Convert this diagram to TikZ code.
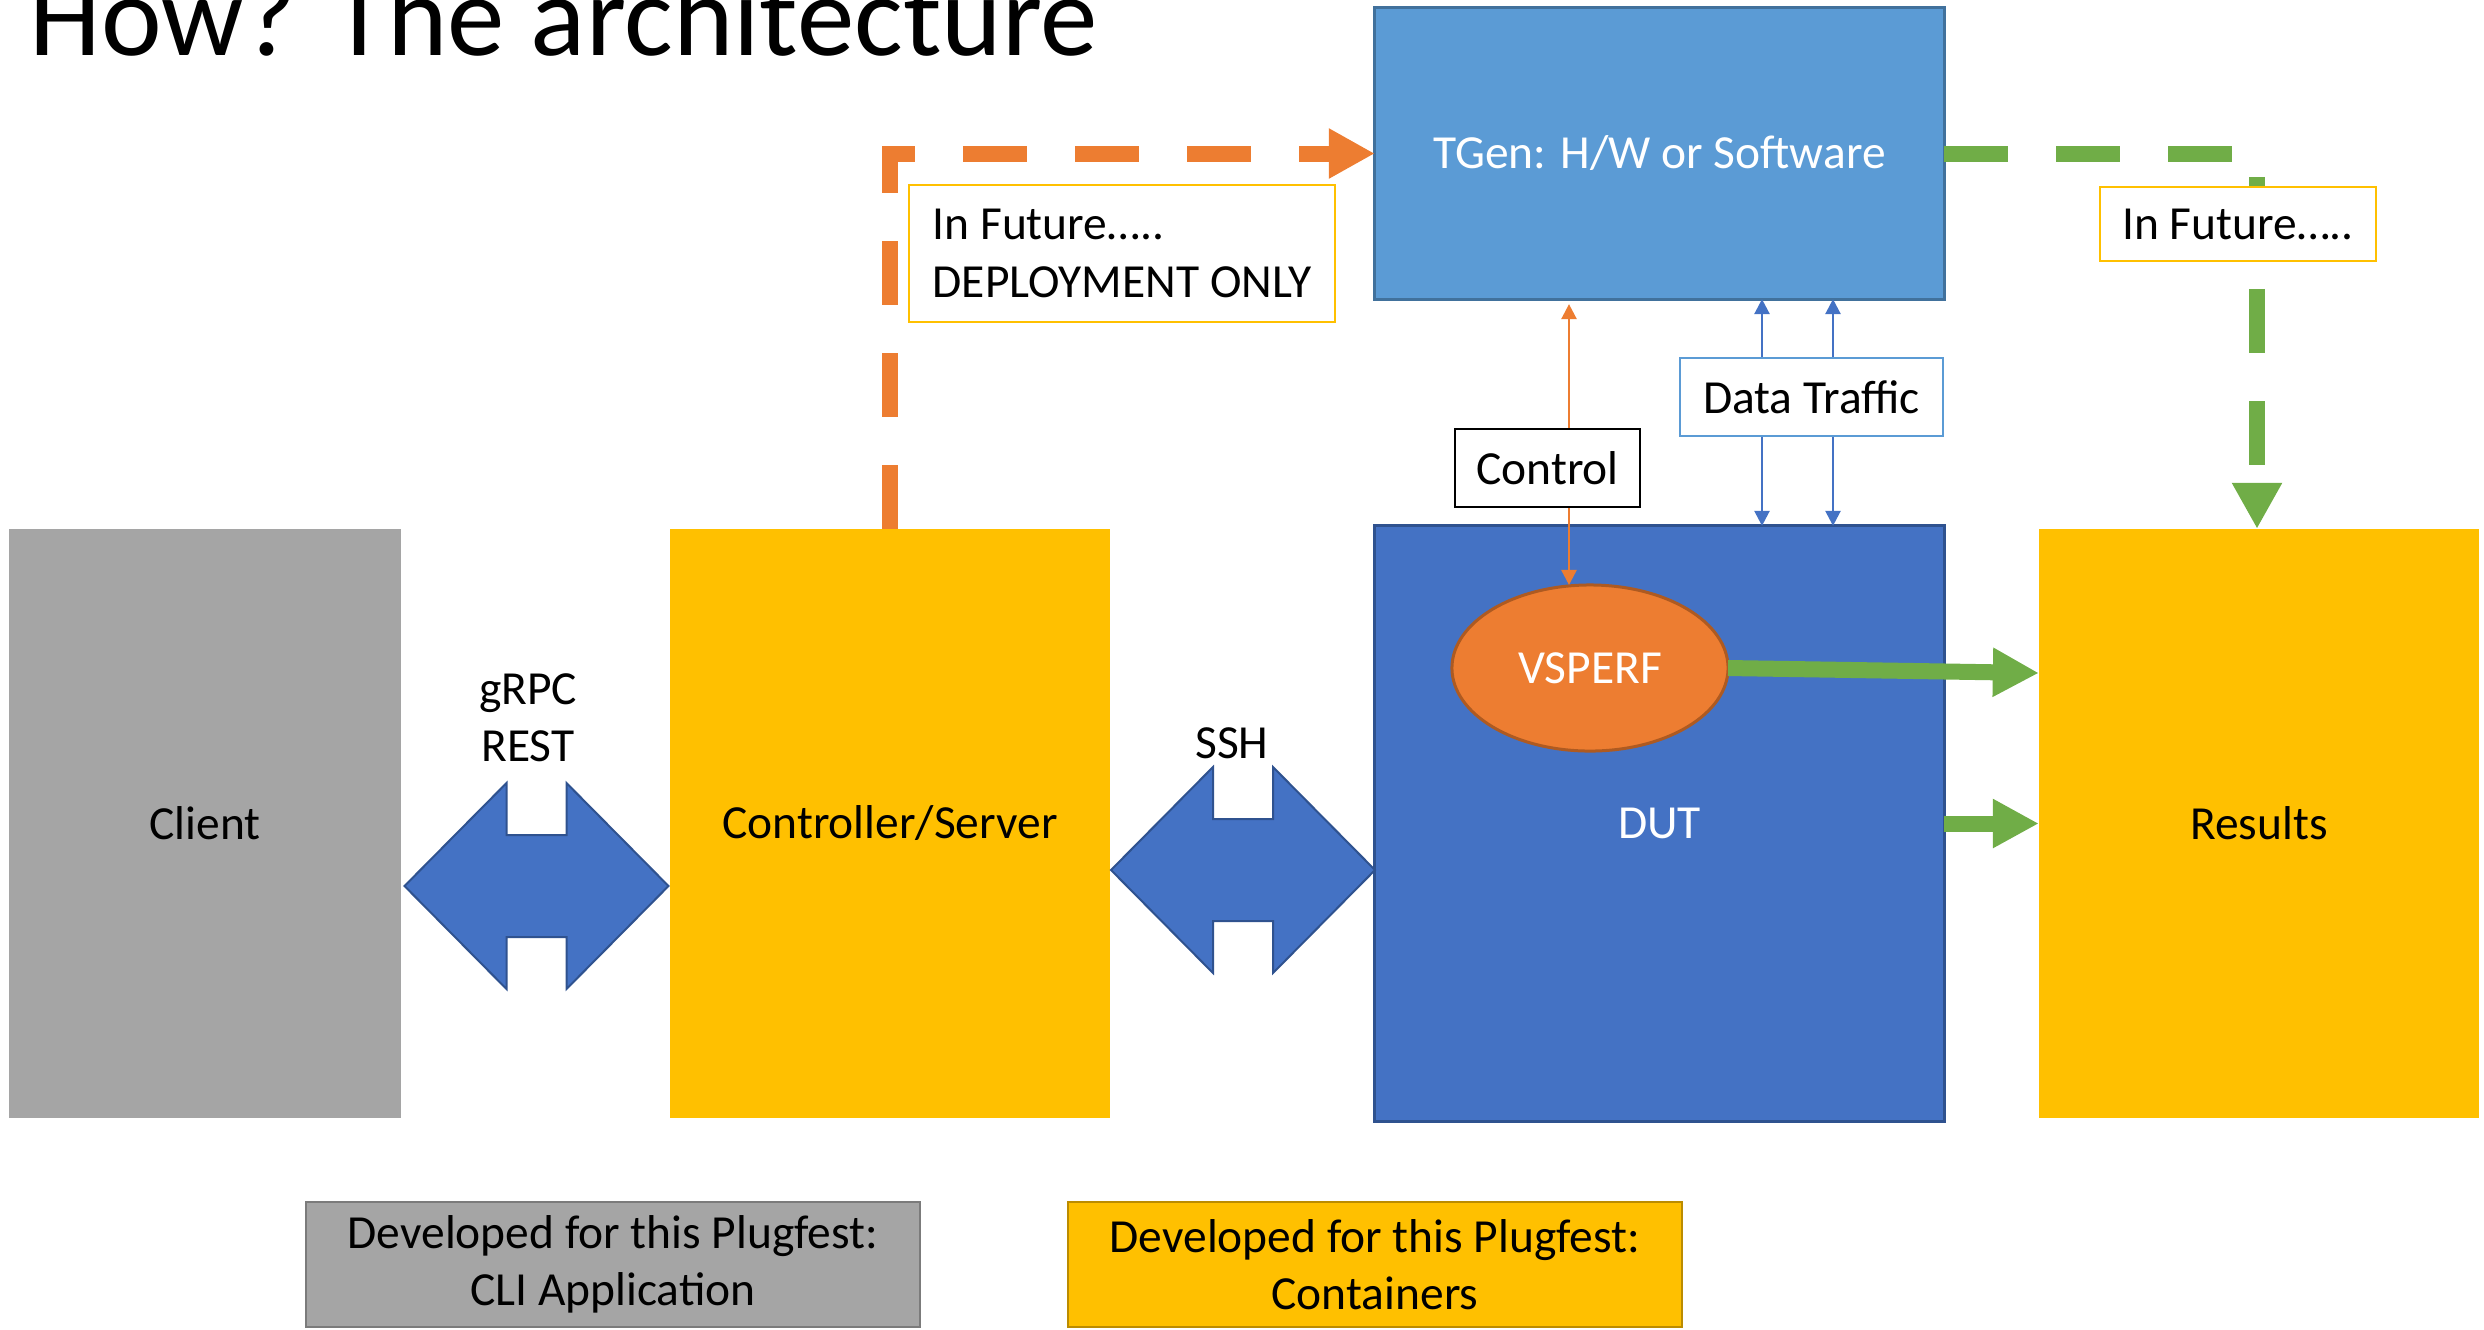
\documentclass[tikz,border=0pt]{standalone}
\usepackage{fontspec}
\setmainfont{Carlito}
\usetikzlibrary{arrows.meta,shapes.geometric}
\definecolor{boxgray}{HTML}{A5A5A5}
\definecolor{graydark}{HTML}{7B7B7B}
\definecolor{boxgold}{HTML}{FFC000}
\definecolor{golddark}{HTML}{BC8C00}
\definecolor{dutblue}{HTML}{4472C4}
\definecolor{dutedge}{HTML}{2F528F}
\definecolor{tgenblue}{HTML}{5B9BD5}
\definecolor{tgenedge}{HTML}{41719C}
\definecolor{vsorange}{HTML}{ED7D31}
\definecolor{vsedge}{HTML}{AE5A21}
\definecolor{futgreen}{HTML}{70AD47}
\begin{document}
\begin{tikzpicture}[x=0.01cm,y=-0.01cm,
  every node/.style={font=\fontsize{13.5}{16.3}\selectfont, inner sep=0pt, outer sep=0pt},
  tall/.style={minimum height=5.89cm},
  lbl/.style={draw, fill=white, line width=0.025cm, minimum height=0.78cm},
  futbox/.style={draw=boxgold, fill=white, line width=0.025cm},
  legbox/.style={line width=0.025cm, minimum width=6.14cm, minimum height=1.25cm, align=center},
  futline/.style={line width=0.16cm, dash pattern=on 0.64cm off 0.48cm, -{Triangle[length=0.46cm,width=0.47cm]}},
  greenarr/.style={futgreen, line width=0.16cm, -{Triangle[length=0.46cm,width=0.46cm]}},
  thinarr/.style={line width=0.025cm, {Triangle[length=0.15cm,width=0.15cm]}-{Triangle[length=0.15cm,width=0.15cm]}},
  fatarrow/.pic={\draw[fill=dutblue, draw=dutedge, line width=0.02cm] (-132,0) -- (-30,-103) -- (-30,-51) -- (30,-51) -- (30,-103) -- (132,0) -- (30,103) -- (30,51) -- (-30,51) -- (-30,103) -- cycle;}]
\useasboundingbox (0,0) rectangle (2484,1329);
\node[anchor=base west, font=\fontsize{32.7}{36}\selectfont] (title) at (29.5,55) {How? The architecture};
\node[fill=boxgray, minimum width=3.915cm, tall] (client) at (205,823.5) {Client};
\node[fill=boxgold, minimum width=4.4cm, tall] (ctrl) at (890,823.5) {Controller/Server};
\node[fill=dutblue, draw=dutedge, line width=0.03cm, minimum width=5.69cm, minimum height=5.95cm, text=white] (dut) at (1659.5,823.5) {DUT};
\node[fill=boxgold, minimum width=4.4cm, tall] (results) at (2259,823.5) {Results};
\node[fill=tgenblue, draw=tgenedge, line width=0.03cm, minimum width=5.69cm, minimum height=2.91cm, text=white] (tgen) at (1659.5,153.5) {TGen: H/W or Software};
\node[ellipse, fill=vsorange, draw=vsedge, line width=0.03cm, minimum width=2.76cm, minimum height=1.66cm, text=white] (vsperf) at (1590,668) {VSPERF};
\pic at (536.5,886) {fatarrow};\pic at (1243,870) {fatarrow};
\node[align=center] (grpc) at (528,718) {gRPC\\REST};\node (ssh) at (1232,743) {SSH};
\coordinate (ctl) at (1569,0);\coordinate (dt1) at (1762,0);\coordinate (dt2) at (1833,0);
\draw[vsorange, thinarr, shorten <=0.05cm] (tgen.south -| ctl) -- (vsperf.north -| ctl);
\draw[dutblue, thinarr] (tgen.south -| dt1) -- (dut.north -| dt1);\draw[dutblue, thinarr] (tgen.south -| dt2) -- (dut.north -| dt2);
\node[lbl, minimum width=1.85cm] (control) at (1547.5,468) {Control};
\node[lbl, draw=tgenblue, minimum width=2.63cm] (traffic) at (1811.5,397) {Data Traffic};
\draw[futline, vsorange] (ctrl.north) |- (tgen.west);
\draw[futline, futgreen] (tgen.east) -| ([xshift=-0.02cm]results.north);
\node[futbox, minimum width=4.26cm, minimum height=1.37cm, align=left] (fut1) at (1122,253.5) {In Future…..\\DEPLOYMENT ONLY};
\node[futbox, minimum width=2.76cm, minimum height=0.74cm] (fut2) at (2238,224) {In Future…..};
\draw[greenarr] (vsperf.east) -- ([yshift=-0.05cm]vsperf.east -| results.west);\draw[greenarr] (dut.east) -- (results.west);
\node[legbox, fill=boxgray, draw=graydark] (legcli) at (613,1264.5) {Developed for this Plugfest:\\CLI Application};
\node[legbox, fill=boxgold, draw=golddark] (legcon) at (1375,1264.5) {Developed for this Plugfest:\\Containers};
\end{tikzpicture}
\end{document}
